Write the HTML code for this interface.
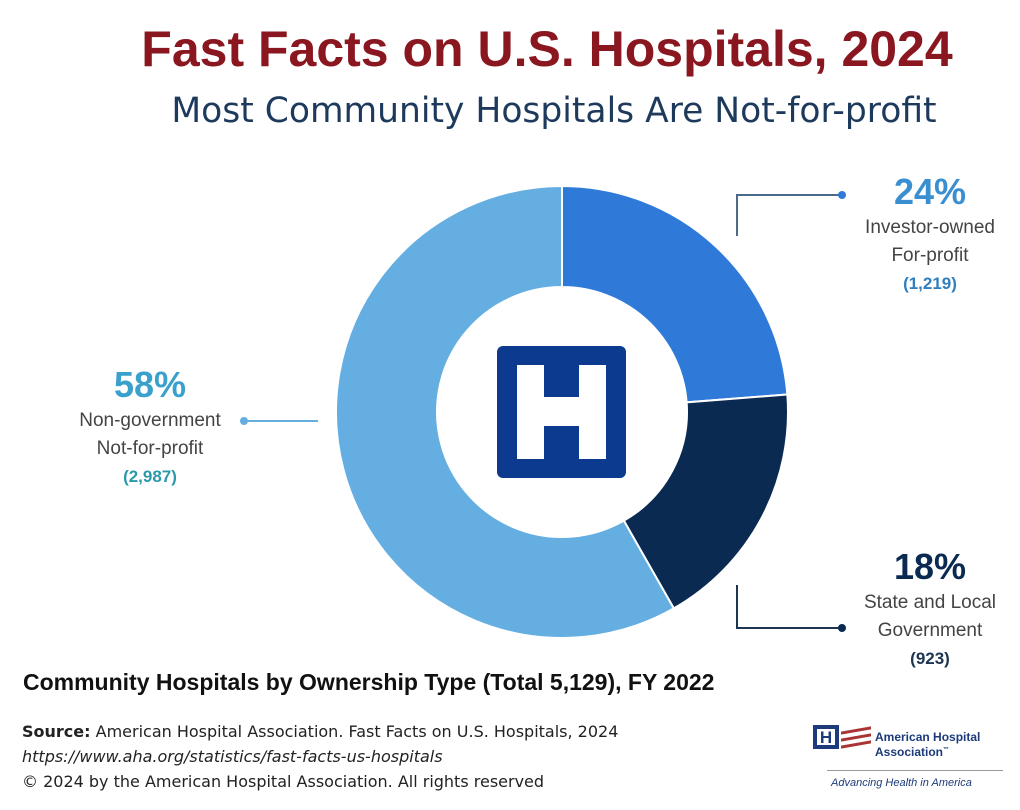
<!DOCTYPE html>
<html><head><meta charset="utf-8"><style>
body{margin:0;background:#fff;width:1020px;height:810px;overflow:hidden;font-family:"Liberation Sans",sans-serif;position:relative}
.t{position:absolute;white-space:nowrap}
.lab{color:#444;font-size:19px;line-height:28px;text-align:center}
.lab .p{font-size:36px;font-weight:bold;line-height:44px}
</style></head><body>
<div class="t" style="left:0;width:1094px;text-align:center;top:20px;font-size:50px;font-weight:bold;color:#8a1620">Fast Facts on U.S. Hospitals, 2024</div>
<div class="t" style="left:0;width:1108px;text-align:center;top:91px;font-size:34.5px;color:#1d3a5c;font-family:'DejaVu Sans',sans-serif">Most Community Hospitals Are Not-for-profit</div>
<svg id="chart" width="1020" height="810" style="position:absolute;left:0;top:0">
<g id="slices"></g>
<rect x="497" y="346" width="129" height="132" rx="6" fill="#0b3a8e"/>
<path d="M517,365h27v32h35v-32h27v94h-27v-33h-35v33h-27z" fill="#fff"/>
<g fill="none" stroke-width="2">
<polyline points="737,236 737,195 840,195" stroke="#4a6b8c"/>
<circle cx="842" cy="195" r="4" fill="#2f7ad8" stroke="none"/>
<polyline points="737,585 737,628 840,628" stroke="#1d3550"/>
<circle cx="842" cy="628" r="4" fill="#0a2a52" stroke="none"/>
<line x1="244" y1="421" x2="318" y2="421" stroke="#64aee2"/>
<circle cx="244" cy="421" r="4" fill="#64aee2" stroke="none"/>
</g>
</svg>
<div class="t lab" style="left:850px;width:160px;top:170px"><div class="p" style="color:#3a8fd0">24%</div>Investor-owned<br>For-profit<br><b style="color:#2f7fc0;font-size:17px">(1,219)</b></div>
<div class="t lab" style="left:850px;width:160px;top:545px"><div class="p" style="color:#0a2a52">18%</div>State and Local<br>Government<br><b style="color:#1d3550;font-size:17px">(923)</b></div>
<div class="t lab" style="left:70px;width:160px;top:363px"><div class="p" style="color:#3aa0cc">58%</div>Non-government<br>Not-for-profit<br><b style="color:#2a9aaa;font-size:17px">(2,987)</b></div>
<div class="t" style="left:23px;top:669px;font-size:23px;font-weight:bold;color:#111">Community Hospitals by Ownership Type (Total 5,129), FY 2022</div>
<div class="t" style="left:22px;top:719px;font-size:16px;line-height:25px;color:#222;font-family:'DejaVu Sans',sans-serif"><b>Source:</b> American Hospital Association. Fast Facts on U.S. Hospitals, 2024<br><i>https://www.aha.org/statistics/fast-facts-us-hospitals</i><br>© 2024 by the American Hospital Association. All rights reserved</div>
<div style="position:absolute;left:813px;top:725px;width:190px;height:70px">
<div style="position:absolute;left:0;top:0;width:26px;height:24px;border:4px solid #1d3a7a;box-sizing:border-box;font:bold 17px 'Liberation Sans';color:#1d3a7a;text-align:center;line-height:17px">H</div>
<div style="position:absolute;left:28px;top:4px;width:30px;height:3px;background:#a33;transform:skewY(-10deg)"></div>
<div style="position:absolute;left:28px;top:11px;width:30px;height:3px;background:#a33;transform:skewY(-10deg)"></div>
<div style="position:absolute;left:28px;top:18px;width:30px;height:3px;background:#a33;transform:skewY(-10deg)"></div>
<div class="t" style="left:62px;top:6px;font-size:12px;font-weight:bold;color:#1d3a7a;line-height:13px">American Hospital<br>Association<sup style="font-size:6px">™</sup></div>
<div style="position:absolute;left:14px;top:45px;width:176px;height:1px;background:#999"></div>
<div class="t" style="left:18px;top:52px;font-size:11px;font-style:italic;color:#1d3a7a">Advancing Health in America</div>
</div>
<script>
const categories=["Investor-owned For-profit","State and Local Government","Non-government Not-for-profit"];
const values=[1219,923,2987];
const colors=["#2f7ad8","#0a2a52","#64aee2"];
const cx=562,cy=412,R=226,r=125;
const total=values.reduce((a,b)=>a+b,0);
function pt(a,rad){return [cx+rad*Math.sin(a),cy-rad*Math.cos(a)];}
let a0=0;const g=document.getElementById('slices');
values.forEach((v,i)=>{
 const a1=a0+v/total*2*Math.PI;const big=(a1-a0)>Math.PI?1:0;
 const p1=pt(a0,R),p2=pt(a1,R),p3=pt(a1,r),p4=pt(a0,r);
 const p=document.createElementNS('http://www.w3.org/2000/svg','path');
 p.setAttribute('d',`M${p1}A${R},${R} 0 ${big} 1 ${p2}L${p3}A${r},${r} 0 ${big} 0 ${p4}Z`);
 p.setAttribute('fill',colors[i]);p.setAttribute('stroke','#fff');p.setAttribute('stroke-width','2');
 
 
 g.appendChild(p);a0=a1;
});
</script>
</body></html>
